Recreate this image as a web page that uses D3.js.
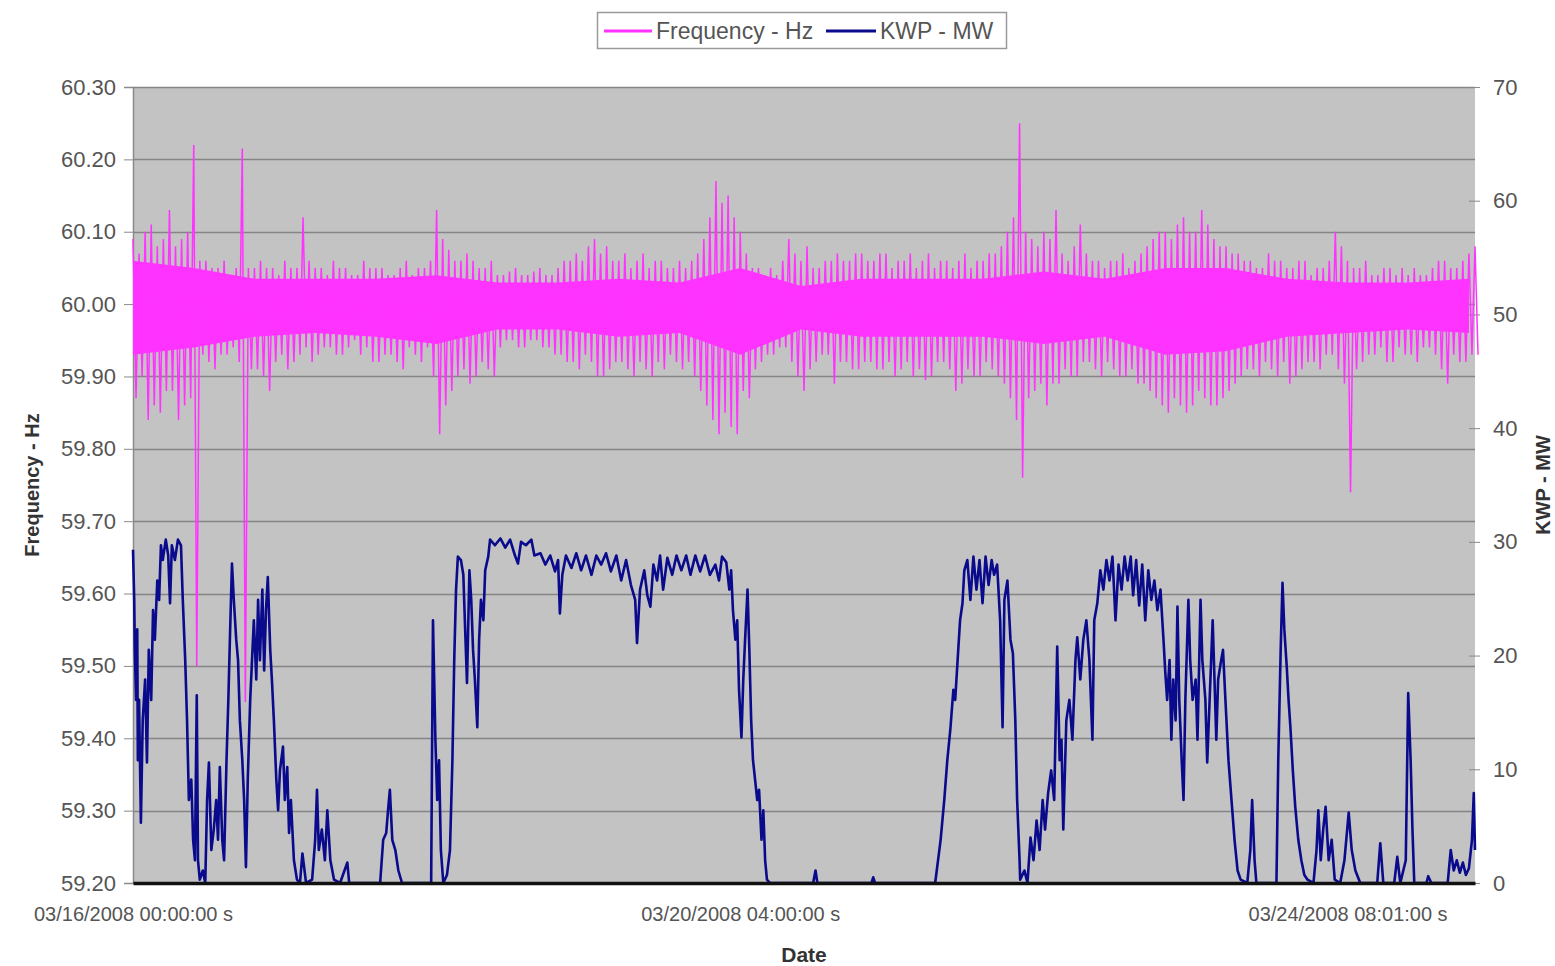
<!DOCTYPE html>
<html>
<head>
<meta charset="utf-8">
<script src="https://cdn.jsdelivr.net/npm/d3@7"></script>
<style>
  html, body { margin: 0; padding: 0; background: #ffffff; }
  svg { display: block; }
  text { font-family: "Liberation Sans", Arial, sans-serif; }
</style>
</head>
<body>
<svg id="chart" width="1555" height="966"></svg>
<script>
// ---------------- DATA ----------------
const seriesNames = ["Frequency - Hz", "KWP - MW"];
const freqTicks = [59.2, 59.3, 59.4, 59.5, 59.6, 59.7, 59.8, 59.9, 60.0, 60.1, 60.2, 60.3];
const kwpTicks = [0, 10, 20, 30, 40, 50, 60, 70];
const dateTickHours = [0, 100, 200.0167];
const dateTickLabels = ["03/16/2008 00:00:00 s", "03/20/2008 04:00:00 s", "03/24/2008 08:01:00 s"];
const hoursSpan = [0, 221];

// Frequency: max / min per 2-hour bin, even hours (Hz)
const freqHours = [0,2,4,6,8,10,12,14,16,18,20,22,24,26,28,30,32,34,36,38,40,42,44,46,48,50,52,54,56,58,60,62,64,66,68,70,72,74,76,78,80,82,84,86,88,90,92,94,96,98,100,102,104,106,108,110,112,114,116,118,120,122,124,126,128,130,132,134,136,138,140,142,144,146,148,150,152,154,156,158,160,162,164,166,168,170,172,174,176,178,180,182,184,186,188,190,192,194,196,198,200,202,204,206,208,210,212,214,216,218,220];
const freqHi = [60.09,60.10,60.08,60.13,60.09,60.22,60.06,60.05,60.04,60.215,60.05,60.05,60.04,60.05,60.12,60.05,60.04,60.05,60.04,60.06,60.05,60.04,60.05,60.04,60.05,60.13,60.075,60.06,60.06,60.05,60.04,60.045,60.04,60.045,60.04,60.05,60.06,60.06,60.09,60.08,60.06,60.05,60.07,60.06,60.05,60.06,60.06,60.09,60.17,60.15,60.10,60.05,60.04,60.04,60.09,60.06,60.05,60.06,60.07,60.06,60.07,60.06,60.07,60.06,60.07,60.06,60.05,60.06,60.06,60.05,60.06,60.07,60.10,60.25,60.09,60.10,60.13,60.06,60.11,60.06,60.05,60.06,60.05,60.07,60.09,60.10,60.11,60.10,60.13,60.09,60.08,60.07,60.06,60.05,60.06,60.05,60.06,60.04,60.05,60.10,60.06,60.05,60.04,60.05,60.04,60.04,60.04,60.05,60.06,60.05,60.07];
const freqLo = [59.87,59.84,59.85,59.88,59.86,59.50,59.92,59.93,59.94,59.45,59.91,59.88,59.93,59.92,59.94,59.93,59.94,59.93,59.95,59.94,59.92,59.93,59.91,59.93,59.94,59.82,59.88,59.91,59.90,59.91,59.94,59.95,59.94,59.95,59.94,59.93,59.92,59.93,59.90,59.91,59.92,59.90,59.91,59.92,59.93,59.91,59.90,59.86,59.82,59.83,59.88,59.91,59.93,59.94,59.92,59.88,59.92,59.93,59.92,59.91,59.92,59.91,59.92,59.91,59.90,59.895,59.92,59.91,59.89,59.90,59.92,59.90,59.87,59.76,59.88,59.86,59.89,59.90,59.92,59.91,59.92,59.90,59.91,59.89,59.87,59.85,59.86,59.86,59.87,59.86,59.88,59.90,59.91,59.92,59.90,59.89,59.91,59.92,59.93,59.91,59.74,59.92,59.93,59.92,59.94,59.93,59.94,59.93,59.89,59.92,59.93];

// Frequency: max / min per 2-hour bin, odd hours (Hz)
const freqHoursOdd = [1,3,5,7,9,11,13,15,17,19,21,23,25,27,29,31,33,35,37,39,41,43,45,47,49,51,53,55,57,59,61,63,65,67,69,71,73,75,77,79,81,83,85,87,89,91,93,95,97,99,101,103,105,107,109,111,113,115,117,119,121,123,125,127,129,131,133,135,137,139,141,143,145,147,149,151,153,155,157,159,161,163,165,167,169,171,173,175,177,179,181,183,185,187,189,191,193,195,197,199,201,203,205,207,209,211,213,215,217,219,221];
const freqHiOdd = [60.07,60.11,60.09,60.08,60.10,60.06,60.05,60.06,60.05,60.05,60.06,60.05,60.06,60.05,60.06,60.05,60.06,60.05,60.04,60.05,60.05,60.04,60.06,60.05,60.06,60.09,60.06,60.07,60.05,60.06,60.04,60.05,60.04,60.05,60.04,60.06,60.07,60.08,60.07,60.06,60.07,60.06,60.05,60.06,60.05,60.05,60.07,60.12,60.14,60.12,60.07,60.05,60.05,60.06,60.07,60.08,60.05,60.06,60.06,60.07,60.06,60.07,60.05,60.06,60.05,60.07,60.06,60.05,60.07,60.06,60.07,60.08,60.12,60.10,60.08,60.09,60.07,60.08,60.07,60.06,60.06,60.07,60.06,60.08,60.10,60.09,60.12,60.10,60.11,60.08,60.07,60.06,60.05,60.07,60.06,60.05,60.06,60.05,60.06,60.08,60.05,60.06,60.04,60.05,60.05,60.05,60.04,60.06,60.05,60.06,60.08];
const freqLoOdd = [59.90,59.86,59.88,59.84,59.87,59.93,59.91,59.93,59.92,59.91,59.90,59.92,59.91,59.93,59.92,59.94,59.93,59.94,59.93,59.92,59.93,59.92,59.94,59.92,59.90,59.86,59.90,59.89,59.92,59.90,59.95,59.94,59.95,59.94,59.93,59.92,59.91,59.92,59.90,59.92,59.91,59.92,59.90,59.91,59.92,59.92,59.88,59.84,59.85,59.82,59.87,59.92,59.93,59.94,59.90,59.91,59.93,59.89,59.92,59.91,59.92,59.91,59.90,59.92,59.91,59.90,59.92,59.88,59.91,59.90,59.91,59.89,59.84,59.87,59.89,59.89,59.91,59.90,59.92,59.90,59.91,59.90,59.89,59.88,59.86,59.87,59.85,59.88,59.86,59.87,59.89,59.91,59.90,59.91,59.92,59.90,59.92,59.91,59.93,59.89,59.91,59.93,59.94,59.92,59.93,59.92,59.94,59.91,59.93,59.92,59.93];

// Frequency: dense core band per 10-hour step (Hz)
const coreHours = [0,10,20,30,40,50,60,70,80,90,100,110,120,130,140,150,160,170,180,190,200,210,220];
const coreHi = [60.06,60.05,60.035,60.035,60.035,60.04,60.03,60.03,60.035,60.03,60.05,60.025,60.035,60.035,60.035,60.045,60.035,60.05,60.05,60.035,60.03,60.03,60.035];
const coreLo = [59.93,59.94,59.955,59.96,59.955,59.945,59.965,59.965,59.955,59.96,59.93,59.965,59.955,59.955,59.955,59.945,59.955,59.93,59.935,59.955,59.96,59.965,59.96];

// KWP (MW)
const kwpHours = [0,0.2,0.3,0.5,0.7,0.8,1.0,1.3,1.6,2.0,2.3,2.6,3.0,3.3,3.6,4.0,4.3,4.6,4.9,5.4,5.8,6.1,6.4,6.9,7.4,7.9,8.2,8.6,8.9,9.2,9.6,9.9,10.2,10.5,10.7,11.0,11.5,11.9,12.2,12.5,12.9,13.3,13.7,14.0,14.3,14.7,15.0,15.4,15.7,16.0,16.3,16.6,17.0,17.3,17.6,18.0,18.3,18.6,18.9,19.3,19.6,19.9,20.3,20.6,20.9,21.3,21.6,21.9,22.2,22.6,22.9,23.2,23.6,23.9,24.2,24.7,25.0,25.4,25.7,26.0,26.5,27.0,27.5,27.9,28.5,29.5,30.0,30.3,30.6,31.1,31.6,32.0,32.5,33.1,34.1,35.3,35.6,40.7,41.2,41.7,42.0,42.3,42.7,43.2,43.7,44.3,49.1,49.4,49.8,50.1,50.4,50.7,51.1,51.7,52.2,52.6,52.9,53.2,53.5,54.0,54.4,54.7,55.0,55.4,55.7,56.0,56.3,56.7,57.0,57.3,57.7,58.0,58.5,58.8,59.6,60.5,61.3,62.1,62.9,63.4,63.9,64.7,65.6,66.1,67.1,67.9,68.7,69.5,70.0,70.3,70.7,71.3,72.2,73.0,73.8,74.6,75.5,76.3,77.1,77.9,78.7,79.6,80.4,81.2,82.0,82.7,83.0,83.5,84.2,84.7,85.2,85.7,86.3,86.8,87.3,88.0,88.8,89.5,90.3,91.1,91.8,92.6,93.4,94.2,95.0,95.9,96.5,97.0,97.7,98.2,98.5,98.8,99.2,99.5,99.8,100.2,100.5,100.8,101.2,101.5,101.8,102.1,102.5,102.8,103.1,103.5,103.8,104.1,104.4,104.9,112.0,112.4,112.7,121.6,121.9,122.2,132.1,133.0,133.6,134.1,134.6,135.1,135.4,135.9,136.2,136.6,136.9,137.4,137.9,138.4,138.9,139.4,139.9,140.4,140.9,141.4,141.8,142.3,142.8,143.2,143.5,144.0,144.5,144.9,145.3,145.6,146.0,146.1,146.8,147.3,147.8,148.3,148.8,149.3,149.8,150.2,150.7,151.2,151.7,152.2,152.6,152.9,153.2,153.7,154.2,154.7,155.2,155.5,156.0,156.5,157.0,157.5,158.0,158.3,158.8,159.3,159.8,160.3,160.8,161.3,161.8,162.3,162.8,163.3,163.8,164.3,164.7,165.2,165.7,166.2,166.7,167.2,167.7,168.2,168.7,169.2,169.7,170.0,170.3,170.7,171.0,171.3,171.7,172.0,172.3,172.7,173.0,173.3,173.8,174.1,174.5,175.0,175.3,175.8,176.1,176.6,176.9,177.3,177.8,178.1,178.4,178.7,179.2,179.5,179.9,180.4,180.9,181.4,181.9,182.4,183.5,184.0,184.3,184.7,185.0,188.3,188.6,189.0,189.3,189.6,190.0,190.3,190.6,191.0,191.4,191.9,192.4,192.9,193.4,194.4,194.9,195.2,195.6,196.0,196.4,196.9,197.4,197.9,198.8,199.5,200.2,200.7,201.3,202.1,204.9,205.4,205.9,207.7,208.2,208.7,209.6,210.0,210.4,210.7,211.0,213.0,213.3,213.8,216.5,217.0,217.5,218.0,218.5,219.0,219.5,220.0,220.5,220.8,221.0];
const kwpMW = [29.3,24.9,20.5,16.1,22.3,10.8,16.1,5.3,14.3,17.9,10.6,20.5,16.1,24.0,21.4,26.6,24.9,29.7,28.4,30.2,28.8,24.6,29.7,28.4,30.2,29.7,24.9,19.6,14.3,7.3,9.1,3.8,2.0,16.5,2.0,0.3,1.1,0,7.3,10.6,2.9,4.7,7.3,3.8,10.2,3.8,2.0,10.8,16.1,22.3,28.1,24.9,21.4,19.6,14.3,10.8,7.3,1.4,9.1,16.1,19.6,23.1,17.9,24.9,19.6,25.8,18.7,24.0,26.9,20.5,17.6,14.3,9.1,6.4,9.9,12.0,7.3,10.2,4.4,7.3,2.0,0.3,0,2.6,0,0.3,3.8,8.2,2.9,4.7,2.0,6.4,2.0,0.3,0,1.8,0,0,3.8,4.4,6.4,8.2,3.8,2.9,1.1,0,0,23.1,12.6,7.3,10.8,2.9,0,0.7,2.9,10.8,19.6,25.8,28.7,28.4,27.1,22.3,17.6,27.5,24.9,20.5,17.9,13.7,21.4,24.9,23.1,27.5,28.7,30.2,29.7,30.3,29.5,30.2,28.8,28.1,30.0,29.7,30.2,28.8,29.0,28.0,28.8,27.4,28.4,23.7,27.1,28.8,27.7,29.0,27.5,28.8,27.1,28.8,28.0,29.0,27.4,28.8,26.6,28.4,26.2,24.9,21.1,25.8,27.5,25.3,24.3,28.0,26.6,28.8,25.8,28.6,27.1,28.8,27.5,28.8,27.1,28.8,27.4,28.8,27.1,28.0,26.6,28.7,28.2,25.8,27.5,24.0,21.4,23.1,17.0,12.8,17.9,21.4,25.8,20.5,14.3,10.8,8.8,7.3,8.2,3.8,6.4,2.0,0.3,0,0,1.1,0,0,0.5,0,0,3.8,7.3,10.8,13.5,17.0,16.1,20.5,23.1,24.6,27.5,28.4,24.9,28.7,25.8,28.4,24.6,28.7,26.2,28.4,27.1,28.0,23.1,13.7,24.9,26.6,21.4,20.2,14.3,7.3,2.0,0.3,1.1,0,4.0,2.0,5.5,2.9,7.3,4.7,7.9,9.9,7.3,20.8,10.8,12.6,4.7,14.3,16.1,12.6,19.6,21.6,17.9,21.4,23.1,19.6,12.6,23.1,24.6,27.5,25.8,28.4,26.6,28.7,23.1,28.0,25.8,28.7,26.6,28.7,25.3,28.4,24.4,28.0,23.1,27.5,24.9,26.6,24.0,25.8,21.4,18.5,16.1,19.6,12.6,17.9,14.3,24.3,16.1,10.8,7.3,16.1,24.9,19.6,16.1,17.9,12.6,24.9,19.6,16.1,10.6,16.1,23.1,17.9,12.6,17.9,19.6,20.5,16.1,10.8,7.3,3.8,1.1,0.3,0,2.9,7.3,2.0,0,0,10.8,20.5,26.4,22.3,19.0,16.1,13.7,9.9,6.7,3.8,2.0,0.7,0.3,0,2.9,6.4,2.0,4.7,6.7,2.0,3.8,0.3,0,2.0,6.2,2.9,1.1,0,0,3.5,0,0,2.3,0,2.0,16.7,10.8,4.7,0,0,0.6,0,0,2.9,1.1,2.0,0.9,1.8,0.7,1.3,3.8,7.9,2.9];

// ---------------- CHART ----------------
const svg = d3.select("#chart");
const L = 133, R = 1475, T = 87, B = 883;

const x = d3.scaleLinear().domain(hoursSpan).range([L, R]);
const yF = d3.scaleLinear().domain([59.2, 60.3]).range([B, T]);
const yK = d3.scaleLinear().domain([0, 70]).range([B, T]);

const pink = "#ff33ff";
const navy = "#0a0a8c";

// Plot background
svg.append("rect").attr("x", L).attr("y", T).attr("width", R - L).attr("height", B - T)
  .attr("fill", "#c3c3c3");

// Grid lines
svg.append("g").selectAll("line").data(freqTicks.slice(1)).join("line")
  .attr("x1", L).attr("x2", R)
  .attr("y1", d => Math.round(yF(d)) + 0.5).attr("y2", d => Math.round(yF(d)) + 0.5)
  .attr("stroke", "#858585").attr("stroke-width", 1.6);

// Left axis
const leftAxis = d3.axisLeft(yF).tickValues(freqTicks).tickFormat(d3.format(".2f")).tickSize(9).tickPadding(8);
const gl = svg.append("g").attr("transform", `translate(${L},0)`).call(leftAxis);
gl.select(".domain").attr("stroke", "#8a8a8a").attr("stroke-width", 1.5);
gl.selectAll(".tick line").attr("stroke", "#8a8a8a");
gl.selectAll(".tick text").attr("fill", "#555").style("font-size", "22px")
  .style("font-family", "'Liberation Sans', Arial, sans-serif");

// Right axis
const rightAxis = d3.axisRight(yK).tickValues(kwpTicks).tickSize(6).tickPadding(12);
const gr = svg.append("g").attr("transform", `translate(${R},0)`).call(rightAxis);
gr.select(".domain").attr("stroke", "none");
gr.selectAll(".tick line").attr("stroke", "#8a8a8a").attr("x1", -6).attr("x2", 5);
gr.selectAll(".tick text").attr("fill", "#555").style("font-size", "22px")
  .style("font-family", "'Liberation Sans', Arial, sans-serif");

// Frequency series: dense core band + per-bin extremes
svg.append("path").datum(coreHours.map((h, i) => [h, coreHi[i], coreLo[i]]))
  .attr("fill", pink)
  .attr("d", d3.area().x(d => x(d[0])).y0(d => yF(d[2])).y1(d => yF(d[1])));

const bins = freqHours.map((h, i) => [h, freqHi[i], freqLo[i]])
  .concat(freqHoursOdd.map((h, i) => [h, freqHiOdd[i], freqLoOdd[i]]))
  .sort((a, b) => a[0] - b[0]);
const zig = [];
bins.forEach(b => { zig.push([b[0], b[1]]); zig.push([b[0] + 0.5, b[2]]); });
svg.append("path").datum(zig)
  .attr("fill", "none").attr("stroke", pink).attr("stroke-width", 1.5)
  .attr("stroke-linejoin", "miter")
  .attr("d", d3.line().x(d => x(d[0])).y(d => yF(d[1])));

// KWP series
svg.append("path").datum(kwpHours.map((h, i) => [h, kwpMW[i]]))
  .attr("fill", "none").attr("stroke", navy).attr("stroke-width", 2.6)
  .attr("stroke-linejoin", "round")
  .attr("d", d3.line().x(d => x(d[0])).y(d => yK(d[1])));

// Bottom (category) axis
const bottomAxis = d3.axisBottom(x).tickValues(dateTickHours)
  .tickFormat((d, i) => dateTickLabels[i]).tickSize(0).tickPadding(24);
const gb = svg.append("g").attr("transform", `translate(0,${B})`).call(bottomAxis);
gb.select(".domain").attr("stroke", "#111").attr("stroke-width", 3.5);
gb.selectAll(".tick text").attr("fill", "#555").style("font-size", "20px")
  .style("font-family", "'Liberation Sans', Arial, sans-serif");

// Axis titles
svg.append("text").attr("transform", `translate(39,485) rotate(-90)`)
  .attr("text-anchor", "middle").attr("font-weight", "bold").attr("font-size", 20)
  .attr("fill", "#333").text("Frequency - Hz");
svg.append("text").attr("transform", `translate(1550,485) rotate(-90)`)
  .attr("text-anchor", "middle").attr("font-weight", "bold").attr("font-size", 20)
  .attr("fill", "#333").text("KWP - MW");
svg.append("text").attr("x", 804).attr("y", 962)
  .attr("text-anchor", "middle").attr("font-weight", "bold").attr("font-size", 21)
  .attr("fill", "#333").text("Date");

// Legend
const lg = svg.append("g");
lg.append("rect").attr("x", 597.5).attr("y", 12.5).attr("width", 409).attr("height", 36)
  .attr("fill", "#fff").attr("stroke", "#9a9a9a").attr("stroke-width", 1.5);
const legendItems = [
  { name: seriesNames[0], color: pink, x0: 604, x1: 652, tx: 656 },
  { name: seriesNames[1], color: navy, x0: 826, x1: 876, tx: 880 }
];
legendItems.forEach(it => {
  lg.append("line").attr("x1", it.x0).attr("x2", it.x1).attr("y1", 31).attr("y2", 31)
    .attr("stroke", it.color).attr("stroke-width", 3);
  lg.append("text").attr("x", it.tx).attr("y", 39).attr("font-size", 23)
    .attr("fill", "#555").text(it.name);
});
</script>
</body>
</html>
